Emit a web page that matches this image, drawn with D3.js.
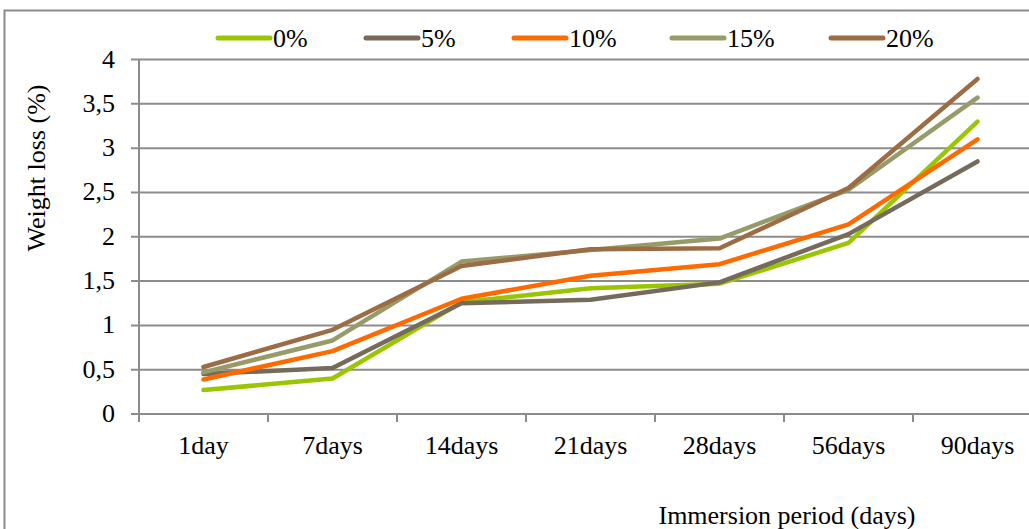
<!DOCTYPE html>
<html>
<head>
<meta charset="utf-8">
<script src="https://cdn.jsdelivr.net/npm/d3@7"></script>
<style>
  body { margin: 0; background: #fff; }
  svg text { font-family: "Liberation Serif", "Times New Roman", Times, serif; font-size: 26px; fill: #000; }
</style>
</head>
<body>
<svg id="chart" width="1029" height="529"></svg>
<script>
var periods = ['1day', '7days', '14days', '21days', '28days', '56days', '90days'];
var seriesNames = ['0%', '5%', '10%', '15%', '20%'];
var seriesColors = ['#99c600', '#766a5b', '#ff6a00', '#979a69', '#9c6d45'];
var loss0 = [0.27, 0.40, 1.26, 1.42, 1.47, 1.93, 3.30];
var loss5 = [0.45, 0.52, 1.25, 1.29, 1.485, 2.03, 2.85];
var loss10 = [0.39, 0.71, 1.30, 1.56, 1.69, 2.14, 3.10];
var loss15 = [0.47, 0.83, 1.72, 1.85, 1.98, 2.53, 3.57];
var loss20 = [0.53, 0.95, 1.67, 1.86, 1.87, 2.55, 3.78];
var yTicks = [0, 0.5, 1, 1.5, 2, 2.5, 3, 3.5, 4];
var allSeries = [loss0, loss5, loss10, loss15, loss20];

var M = { LEFT: 139, TOP: 59.5, RIGHT: 1042, BOTTOM: 414 };

var svg = d3.select('#chart');

// outer frame
svg.append('rect')
    .attr('x', 4.5).attr('y', 10.5)
    .attr('width', 1060).attr('height', 560)
    .attr('fill', 'none')
    .attr('stroke', '#8a8a8a')
    .attr('stroke-width', 2);

var x = d3.scaleBand().domain(periods).range([M.LEFT, M.RIGHT]);
var y = d3.scaleLinear().domain([0, 4]).range([M.BOTTOM, M.TOP]);

var g = svg.append('g');

// grid lines with small tick stubs on the left
g.selectAll('.grid').data(yTicks).enter().append('line')
    .attr('x1', M.LEFT - 8).attr('x2', M.RIGHT)
    .attr('y1', function (d) { return y(d); })
    .attr('y2', function (d) { return y(d); })
    .attr('stroke', '#8c8c8c')
    .attr('stroke-width', 2);

// left axis line
g.append('line')
    .attr('x1', M.LEFT).attr('x2', M.LEFT)
    .attr('y1', y(4)).attr('y2', y(0) + 8)
    .attr('stroke', '#8c8c8c').attr('stroke-width', 2);

// x tick marks at category boundaries
var bounds = periods.map(function (p) { return x(p); }).concat([M.RIGHT]);
g.selectAll('.xt').data(bounds).enter().append('line')
    .attr('x1', function (d) { return d; }).attr('x2', function (d) { return d; })
    .attr('y1', y(0)).attr('y2', y(0) + 8)
    .attr('stroke', '#8c8c8c').attr('stroke-width', 2);

// y labels
g.selectAll('.yl').data(yTicks).enter().append('text')
    .attr('x', M.LEFT - 24)
    .attr('y', function (d) { return y(d) + 8; })
    .attr('text-anchor', 'end')
    .text(function (d) { return String(d).replace('.', ','); });

// x labels
g.selectAll('.xl').data(periods).enter().append('text')
    .attr('x', function (d) { return x(d) + x.bandwidth() / 2; })
    .attr('y', 454)
    .attr('text-anchor', 'middle')
    .text(function (d) { return d; });

// axis titles
svg.append('text')
    .attr('transform', 'translate(45,168) rotate(-90)')
    .attr('text-anchor', 'middle')
    .text('Weight loss (%)');

svg.append('text')
    .attr('x', 787).attr('y', 524)
    .attr('text-anchor', 'middle')
    .text('Immersion period (days)');

// lines
var line = d3.line()
    .x(function (d, i) { return x(periods[i]) + x.bandwidth() / 2; })
    .y(function (d) { return y(d); });

g.selectAll('.series').data(allSeries).enter().append('path')
    .attr('d', line)
    .attr('fill', 'none')
    .attr('stroke', function (d, i) { return seriesColors[i]; })
    .attr('stroke-width', 4.5)
    .attr('stroke-linecap', 'round')
    .attr('stroke-linejoin', 'round');

// legend
var legendX = [218, 366, 514, 672, 831];
var leg = svg.selectAll('.leg').data(seriesNames).enter().append('g')
    .attr('transform', function (d, i) { return 'translate(' + legendX[i] + ',38)'; });
leg.append('line')
    .attr('x1', 0).attr('x2', 52)
    .attr('stroke', function (d, i) { return seriesColors[i]; })
    .attr('stroke-width', 5)
    .attr('stroke-linecap', 'round');
leg.append('text')
    .attr('x', 55).attr('y', 9)
    .text(function (d) { return d; });
</script>
</body>
</html>
